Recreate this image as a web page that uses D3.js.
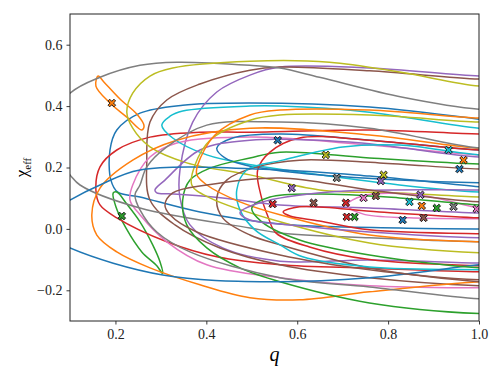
<!DOCTYPE html>
<html>
<head>
<meta charset="utf-8">
<script src="https://cdn.jsdelivr.net/npm/d3@7"></script>
<style>
  body { margin: 0; background: #fff; }
</style>
</head>
<body>
<div id="chart"></div>
<script>
const qTicks = [0.2, 0.4, 0.6, 0.8, 1.0];
const chiTicks = [-0.2, 0.0, 0.2, 0.4, 0.6];

// credible-region outlines, one per event, as [q, chi_eff] points (drawn in tab10 order)
const contours = [
  [[1.09,.338],[1.001,.357],[.759,.397],[.496,.410],[.348,.403],[.254,.377],[.203,.322],[.188,.257],[.190,.159],[.205,.120],[.254,.104],[.386,.055],[.562,.016],[.825,.003],[1.001,0],[1.09,0],[1.18,.16]],
  [[.162,.498],[.157,.465],[.188,.410],[.225,.364],[.258,.322],[.263,.335],[.247,.374],[.210,.423],[.175,.478]],
  [[.195,.117],[.201,.072],[.223,.003],[.258,-.075],[.291,-.120],[.304,-.146],[.298,-.107],[.282,-.052],[.254,.023],[.225,.081],[.203,.120]],
  [[1.09,.309],[1.001,.309],[.759,.322],[.496,.315],[.386,.315],[.276,.299],[.203,.257],[.166,.202],[.157,.127],[.166,.078],[.203,.036],[.313,-.042],[.423,-.091],[.562,-.117],[.759,-.128],[1.001,-.140],[1.09,-.140]],
  [[1.09,.498],[1.001,.498],[.759,.524],[.562,.527],[.496,.501],[.423,.446],[.370,.348],[.342,.192],[.342,.101],[.364,.013],[.436,-.062],[.562,-.105],[.759,-.101],[1.001,-.111],[1.09,-.111]],
  [[1.09,.488],[1.001,.488],[.759,.515],[.562,.527],[.496,.517],[.386,.472],[.313,.420],[.276,.348],[.269,.224],[.276,.094],[.331,.013],[.430,-.062],[.562,-.117],[.759,-.159],[1.001,-.185],[1.09,-.185]],
  [[1.09,.241],[1.001,.241],[.759,.273],[.496,.299],[.335,.280],[.276,.234],[.238,.143],[.232,.094],[.254,.046],[.313,-.042],[.401,-.117],[.562,-.159],[.759,-.185],[1.001,-.192],[1.09,-.192]],
  [[1.09,.390],[1.001,.390],[.832,.429],[.649,.494],[.562,.524],[.496,.533],[.335,.543],[.254,.533],[.166,.494],[.100,.442],[.034,.306],[.100,.176],[.122,.143],[.254,.068],[.496,.003],[.562,-.013],[.759,-.029],[1.001,-.042],[1.09,-.042]],
  [[1.09,.465],[1.001,.465],[.825,.511],[.671,.543],[.496,.546],[.326,.524],[.276,.498],[.238,.442],[.225,.380],[.238,.328],[.276,.267],[.357,.215],[.496,.176],[.649,.127],[.825,.117],[1.001,.104],[1.09,.104]],
  [[1.09,.328],[1.001,.328],[.759,.380],[.562,.400],[.496,.400],[.348,.384],[.320,.367],[.302,.338],[.326,.296],[.401,.241],[.502,.208],[.605,.185],[.825,.143],[1.001,.120],[1.09,.120]],
  [[1.09,.257],[1.001,.257],[.759,.289],[.562,.309],[.458,.296],[.423,.263],[.441,.231],[.485,.208],[.605,.182],[.825,.159],[1.001,.150],[1.09,.150]],
  [[1.09,.263],[1.001,.263],[.759,.306],[.496,.328],[.335,.289],[.238,.224],[.166,.133],[.148,.046],[.159,-.020],[.203,-.075],[.276,-.127],[.386,-.182],[.496,-.224],[.605,-.231],[.759,-.205],[1.001,-.172],[1.09,-.172]],
  [[1.09,.211],[1.001,.211],[.759,.231],[.562,.250],[.496,.231],[.408,.198],[.364,.159],[.348,.094],[.357,.013],[.401,-.062],[.474,-.127],[.562,-.172],[.759,-.241],[1.001,-.276],[1.09,-.276]],
  [[1.09,.257],[1.001,.257],[.759,.289],[.605,.296],[.540,.250],[.513,.192],[.520,.110],[.536,.039],[.553,-.013],[.627,-.059],[.759,-.100],[1.001,-.120],[1.09,-.120]],
  [[1.09,.234],[1.001,.234],[.715,.283],[.496,.289],[.386,.257],[.309,.159],[.287,.127],[.291,.117],[.326,.114],[.436,.101],[.562,.078],[.759,.068],[1.001,.052],[1.09,.052]],
  [[1.09,.195],[1.001,.195],[.781,.215],[.605,.224],[.511,.202],[.445,.159],[.423,.101],[.436,.036],[.496,-.020],[.562,-.052],[.759,-.127],[1.001,-.172],[1.09,-.172]],
  [[1.09,.050],[1.001,.068],[.863,.111],[.744,.107],[.710,.078],[.744,.049],[.847,.036],[1.001,.033],[1.09,.033]],
  [[1.09,.263],[1.001,.263],[.759,.328],[.562,.348],[.401,.338],[.313,.267],[.269,.202],[.254,.143],[.243,.111],[.254,.062],[.291,-.010],[.364,-.075],[.562,-.159],[.759,-.189],[1.001,-.228],[1.09,-.228]],
  [[1.09,.348],[1.001,.348],[.759,.371],[.562,.371],[.496,.354],[.408,.289],[.375,.208],[.368,.143],[.408,.101],[.562,.023],[.759,-.046],[1.001,-.078],[1.09,-.078]],
  [[1.09,.241],[1.001,.241],[.825,.273],[.700,.267],[.568,.224],[.489,.192],[.467,.127],[.474,.062],[.507,-.003],[.562,-.052],[.612,-.091],[.759,-.124],[1.001,-.133],[1.09,-.133]],
  [[1.09,.127],[1.001,.137],[.759,.172],[.562,.192],[.254,.192],[.166,.143],[.100,.094],[.012,.013],[.100,-.062],[.304,-.150],[.540,-.172],[.759,-.159],[1.001,-.117],[1.09,-.107]],
  [[1.09,.361],[1.001,.361],[.759,.387],[.562,.387],[.496,.371],[.419,.306],[.381,.208],[.379,.176],[.401,.143],[.474,.088],[.562,.046],[.759,-.020],[1.001,-.042],[1.09,-.042]],
  [[1.09,.078],[1.001,.078],[.825,.101],[.649,.114],[.540,.104],[.500,.068],[.522,.023],[.605,-.036],[.759,-.085],[1.001,-.127],[1.09,-.127]],
  [[1.09,.036],[1.001,.036],[.781,.055],[.605,.072],[.569,.055],[.584,.042],[.649,.026],[.759,-.003],[1.001,-.016],[1.09,-.016]],
  [[1.09,.127],[1.001,.127],[.671,.120],[.518,.085],[.474,.052],[.496,.029],[.584,.013],[.759,-.010],[1.001,-.029],[1.09,-.029]],
  [[1.09,.088],[1.001,.088],[.759,.127],[.562,.166],[.401,.143],[.326,.117],[.309,.078],[.320,.046],[.379,-.010],[.562,-.085],[.759,-.133],[1.001,-.166],[1.09,-.166]]
];

// maximum-likelihood point of each event
const peakQ   = [.557,.192,.214,.707,.588,.636,.746,.687,.663,.933,.957,.874,.907,.546,.784,.773,.995,.944,.790,.847,.832,.966,.726,.709,.871,.878];
const peakChi = [.289,.410,.042,.085,.133,.085,.101,.166,.241,.257,.195,.075,.068,.081,.156,.107,.065,.072,.176,.088,.029,.224,.039,.039,.111,.036];

const width = 500, height = 375;
const margin = {top: 14, right: 21, bottom: 54, left: 70};
const serif = "Liberation Serif";

const svg = d3.select("#chart").append("svg")
    .attr("width", width)
    .attr("height", height);

const x = d3.scaleLinear().domain([0.1, 1.0]).range([margin.left, width - margin.right]);
const y = d3.scaleLinear().domain([-0.3, 0.7]).range([height - margin.bottom, margin.top]);

const color = i => d3.schemeCategory10[i % 10];

svg.append("clipPath").attr("id", "plot-clip")
  .append("rect")
    .attr("x", margin.left)
    .attr("y", margin.top)
    .attr("width", x(1.0) - margin.left)
    .attr("height", y(-0.3) - margin.top);

const plot = svg.append("g").attr("clip-path", "url(#plot-clip)");

const line = d3.line()
    .x(d => x(d[0]))
    .y(d => y(d[1]))
    .curve(d3.curveCatmullRomClosed.alpha(0.5));

plot.selectAll("path.contour")
  .data(contours)
  .join("path")
    .attr("class", "contour")
    .attr("d", line)
    .attr("fill", "none")
    .attr("stroke", (d, i) => color(i))
    .attr("stroke-width", 1.5);

// filled "X" marker like matplotlib's
const r = 4.2, t = 1.2;
const plus = [[-t,r],[t,r],[t,t],[r,t],[r,-t],[t,-t],[t,-r],[-t,-r],[-t,-t],[-r,-t],[-r,t],[-t,t]];
const c45 = Math.SQRT1_2;
const xShape = "M" + plus.map(p => [(p[0] - p[1]) * c45, (p[0] + p[1]) * c45].map(v => v.toFixed(2)).join(",")).join("L") + "Z";

plot.selectAll("path.peak")
  .data(peakQ)
  .join("path")
    .attr("class", "peak")
    .attr("d", xShape)
    .attr("transform", (d, i) => `translate(${x(d)},${y(peakChi[i])})`)
    .attr("fill", (d, i) => color(i))
    .attr("stroke", "#111")
    .attr("stroke-width", 0.9);

// axes
const fmt = d3.format(".1f");
const xAxis = svg.append("g")
    .attr("transform", `translate(0,${height - margin.bottom})`)
    .call(d3.axisBottom(x).tickValues(qTicks).tickFormat(fmt).tickSize(3.5).tickPadding(5));
const yAxis = svg.append("g")
    .attr("transform", `translate(${margin.left},0)`)
    .call(d3.axisLeft(y).tickValues(chiTicks).tickFormat(fmt).tickSize(3.5).tickPadding(4));

[xAxis, yAxis].forEach(a => {
  a.attr("font-family", serif).attr("font-size", 14);
  a.select(".domain").remove();
  a.selectAll(".tick line").attr("stroke", "#222").attr("stroke-width", 0.9);
  a.selectAll(".tick text").attr("fill", "#222");
});

svg.append("rect")
    .attr("x", margin.left)
    .attr("y", margin.top)
    .attr("width", x(1.0) - margin.left)
    .attr("height", y(-0.3) - margin.top)
    .attr("fill", "none")
    .attr("stroke", "#222")
    .attr("stroke-width", 1);

svg.append("text")
    .attr("x", (margin.left + x(1.0)) / 2)
    .attr("y", 361)
    .attr("text-anchor", "middle")
    .attr("font-family", serif)
    .attr("font-size", 20)
    .attr("font-style", "italic")
    .text("q");

const yl = svg.append("text")
    .attr("transform", `translate(27,${(margin.top + y(-0.3)) / 2}) rotate(-90)`)
    .attr("text-anchor", "middle")
    .attr("font-family", serif)
    .attr("font-size", 17);
yl.append("tspan").text("χ");
yl.append("tspan").attr("dy", 4).attr("font-size", 11).text("eff");
</script>
</body>
</html>
